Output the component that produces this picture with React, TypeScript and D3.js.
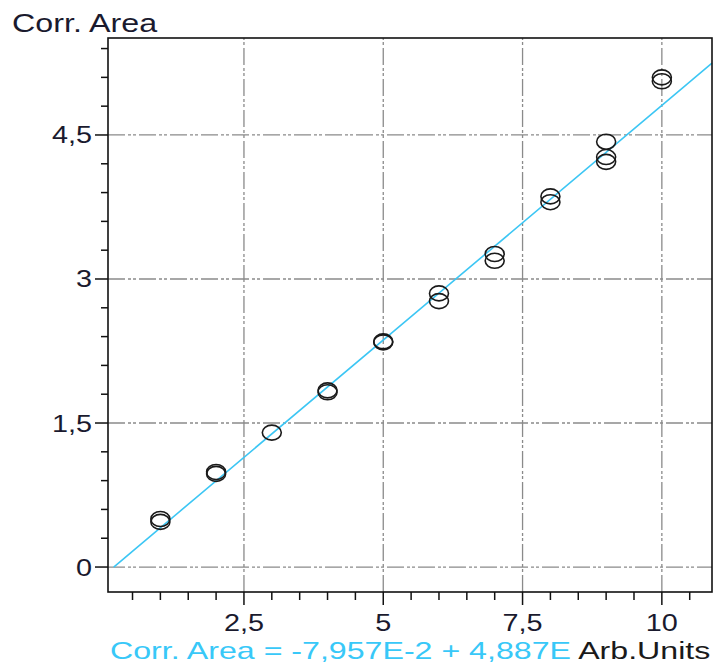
import React from "react";
import * as d3 from "d3";

const xValues = [1, 1, 2, 2, 3, 4, 4, 5, 5, 6, 6, 7, 7, 8, 8, 9, 9, 9, 10, 10];
const yValues = [0.5, 0.47, 0.99, 0.97, 1.4, 1.84, 1.82, 2.35, 2.34, 2.85, 2.77, 3.26, 3.19, 3.86, 3.8, 4.43, 4.27, 4.22, 5.1, 5.06];
const xTicks = [2.5, 5, 7.5, 10];
const xTickLabels = ["2,5", "5", "7,5", "10"];
const yTicks = [0, 1.5, 3, 4.5];
const yTickLabels = ["0", "1,5", "3", "4,5"];
const fitIntercept = -0.07957;
const fitSlope = 0.4887;
const yTitle = "Corr. Area";
const equationText = "Corr. Area = -7,957E-2 + 4,887E";
const xTitle = "Arb.Units";

const W = 715;
const H = 665;
const L = 108, R = 712, T = 38, B = 592;
const SX = 1.2;

export default function App() {
  const x = d3.scaleLinear().domain([0.06, 10.9]).range([L, R]);
  const y = d3.scaleLinear().domain([-0.26, 5.51]).range([B, T]);

  const xMinor = d3.range(0.5, 10.9, 0.5).filter((v) => !xTicks.some((t) => Math.abs(t - v) < 1e-6));
  const yMinor = d3.range(0, 5.5, 0.3).filter((v) => !yTicks.some((t) => Math.abs(t - v) < 1e-6));

  const x0 = -fitIntercept / fitSlope;
  const x1 = 10.9;
  const line = d3.line<number>().x((d) => x(d)).y((d) => y(fitIntercept + fitSlope * d));

  const grid = "#8a8a8a";
  const dash = "17,3,3,2,3,3";
  const font = "'Liberation Sans', Arial, sans-serif";

  return (
    <svg width={W} height={H} style={{ position: "absolute", left: 0, top: 0, background: "#fff" }} fontFamily={font}>
      <rect x={0} y={0} width={W} height={H} fill="#fff" />
      {yTicks.map((t) => (
        <line key={"gy" + t} x1={L} x2={R} y1={y(t)} y2={y(t)} stroke={grid} strokeWidth={1.3} strokeDasharray={dash} />
      ))}
      {xTicks.map((t) => (
        <line key={"gx" + t} x1={x(t)} x2={x(t)} y1={B} y2={T} stroke={grid} strokeWidth={1.3} strokeDasharray={dash} />
      ))}
      <path d={line([x0, x1]) || ""} stroke="#3cc6f4" strokeWidth={1.6} fill="none" />
      {xValues.map((xv, i) => (
        <ellipse key={i} cx={x(xv)} cy={y(yValues[i])} rx={9.5} ry={7.5} fill="none" stroke="#1a1a1a" strokeWidth={1.6} />
      ))}
      <rect x={L} y={T} width={R - L} height={B - T} fill="none" stroke="#111" strokeWidth={1.6} />
      {yTicks.map((t) => (
        <line key={"yt" + t} x1={L - 13} x2={L} y1={y(t)} y2={y(t)} stroke="#111" strokeWidth={1.5} />
      ))}
      {yMinor.map((t) => (
        <line key={"ym" + t} x1={L - 7} x2={L} y1={y(t)} y2={y(t)} stroke="#111" strokeWidth={1.5} />
      ))}
      {xTicks.map((t) => (
        <line key={"xt" + t} x1={x(t)} x2={x(t)} y1={B} y2={B + 13} stroke="#111" strokeWidth={1.5} />
      ))}
      {xMinor.map((t) => (
        <line key={"xm" + t} x1={x(t)} x2={x(t)} y1={B} y2={B + 8} stroke="#111" strokeWidth={1.5} />
      ))}
      {yTicks.map((t, i) => (
        <g key={"yl" + t} transform={`translate(${L - 16},${y(t) + 8.5}) scale(${SX},1)`}>
          <text textAnchor="end" fontSize={24} fill="#1a1a2e">{yTickLabels[i]}</text>
        </g>
      ))}
      {xTicks.map((t, i) => (
        <g key={"xl" + t} transform={`translate(${x(t)},${631}) scale(${SX},1)`}>
          <text textAnchor="middle" fontSize={24} fill="#1a1a2e">{xTickLabels[i]}</text>
        </g>
      ))}
      <g transform={`translate(12,32) scale(1.29,1)`}>
        <text fontSize={25} fill="#1a1a2e">{yTitle}</text>
      </g>
      <g transform={`translate(110,659) scale(1.34,1)`}>
        <text fontSize={24}>
          <tspan fill="#38c8f8">{equationText}</tspan>
          <tspan fill="#1a1a1a">{" " + xTitle}</tspan>
        </text>
      </g>
    </svg>
  );
}
